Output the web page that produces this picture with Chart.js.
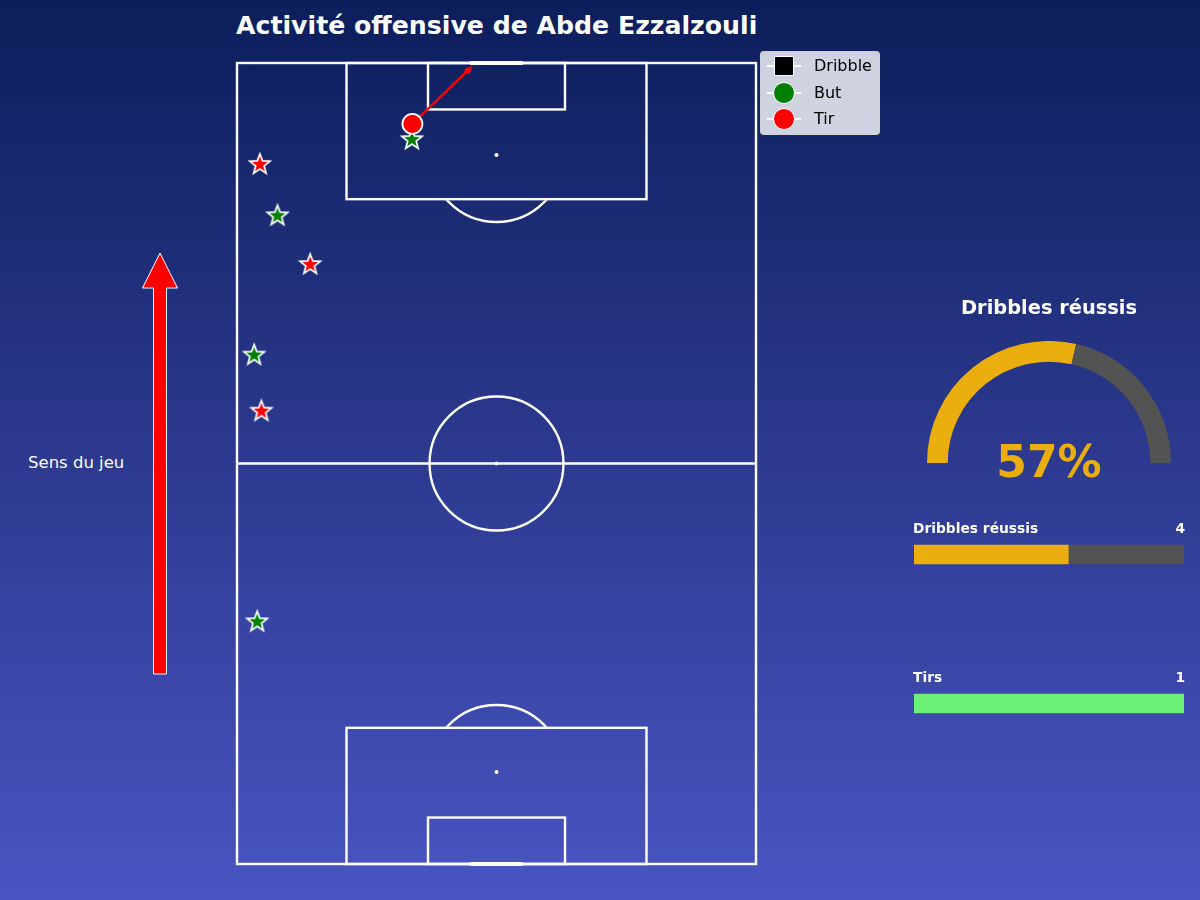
<!DOCTYPE html>
<html>
<head>
<meta charset="utf-8">
<script src="https://cdn.jsdelivr.net/npm/chart.js@4.4.1/dist/chart.umd.min.js"></script>
<style>
  html, body { margin:0; padding:0; }
  body { width:1200px; height:900px; position:relative; overflow:hidden;
         background: linear-gradient(to bottom, #0c1e5b 0%, #2c398e 50%, #4955c2 100%);
         font-family: "DejaVu Sans", sans-serif; color:#fff; }
  .abs { position:absolute; }
  #title { left:236px; top:11px; font-size:25.2px; font-weight:bold; white-space:nowrap; }
  #sens { left:28px; top:453px; font-size:16.5px; white-space:nowrap; }
  #legend { left:760px; top:51px; width:120px; height:84px; background:rgba(255,255,255,0.8);
            border:1px solid rgba(210,210,210,0.9); border-radius:4px; box-sizing:border-box; }
  .lrow { position:absolute; left:0; height:26px; width:120px; }
  .lline { position:absolute; left:6px; top:12px; width:34px; height:2px; background:#fff; }
  .lmark { position:absolute; left:13px; top:3px; width:20px; height:20px; box-sizing:border-box; border:1.5px solid #fff; }
  .ltext { position:absolute; left:53px; top:3px; font-size:16px; color:#000; }
  #gtitle { left:900px; width:298px; text-align:center; top:296px; font-size:19.4px; font-weight:bold; }
  #gval { left:900px; width:298px; text-align:center; top:436px; font-size:44px; font-weight:bold; color:#eaaf0f; }
  .blab { font-size:13.8px; font-weight:bold; white-space:nowrap; }
</style>
</head>
<body>
<div id="title" class="abs">Activité offensive de Abde Ezzalzouli</div>
<div id="sens" class="abs">Sens du jeu</div>
<svg class="abs" style="left:0;top:0" width="200" height="900">
  <polygon points="153.5,674 166.5,674 166.5,288 177.5,288 160,253 142.5,288 153.5,288"
           fill="#ff0000" stroke="#ffffff" stroke-width="1"/>
</svg>

<canvas id="pitch" class="abs" style="left:0;top:0" width="1200" height="900"></canvas>

<div id="legend" class="abs">
  <div class="lrow" style="top:1px"><div class="lline"></div><div class="lmark" style="background:#000"></div><div class="ltext">Dribble</div></div>
  <div class="lrow" style="top:28px"><div class="lline"></div><div class="lmark" style="background:#008000;border-radius:50%;left:12px;width:22px;height:22px;top:2px"></div><div class="ltext">But</div></div>
  <div class="lrow" style="top:54px"><div class="lline"></div><div class="lmark" style="background:#ff0000;border-radius:50%;left:12px;width:22px;height:22px;top:2px"></div><div class="ltext">Tir</div></div>
</div>

<div id="gtitle" class="abs">Dribbles réussis</div>
<canvas id="gauge" class="abs" style="left:927px;top:341px" width="244" height="122"></canvas>
<div id="gval" class="abs"></div>

<div id="bl1" class="abs blab" style="left:913px;top:520px"></div>
<div id="bv1" class="abs blab" style="right:15px;top:520px"></div>
<div id="bl2" class="abs blab" style="left:913px;top:669px"></div>
<div id="bv2" class="abs blab" style="right:15px;top:669px"></div>
<canvas id="bars" class="abs" style="left:914px;top:480px" width="270" height="298"></canvas>

<script>
// ---------------- DATA ----------------
const dribbleX = [4.4, 7.8, 14.1, 3.3, 4.7, 3.9, 33.7];
const dribbleY = [87.4, 81.0, 74.9, 63.6, 56.6, 30.3, 90.5];
const dribbleSuccess = [false, true, false, true, false, true, true];

const shotStartX = [33.8];
const shotStartY = [92.4];
const shotEndX = [45.0];
const shotEndY = [99.4];

const statLabels = ['Dribbles réussis', 'Tirs'];
const dribblesWon = 4;
const dribblesTotal = 7;
const shotsTotal = 1;

// ---------------- COLOURS ----------------
const YELLOW = '#eaaf0f', GREY = '#535353', GREEN_BAR = '#6bef75';

// ---------------- STAR MARKER ----------------
function starPath(ctx, cx, cy, R, ratio) {
  ctx.beginPath();
  for (let i = 0; i < 10; i++) {
    const rad = i % 2 === 0 ? R : R * ratio;
    const a = -Math.PI / 2 + i * Math.PI / 5;
    const px = cx + rad * Math.cos(a), py = cy + rad * Math.sin(a);
    if (i === 0) ctx.moveTo(px, py); else ctx.lineTo(px, py);
  }
  ctx.closePath();
}
function makeStar(fill) {
  const c = document.createElement('canvas');
  c.width = 26; c.height = 26;
  const ctx = c.getContext('2d');
  const cx = 13, cy = 13.6;
  starPath(ctx, cx, cy, 8.2, 0.42);
  ctx.lineJoin = 'miter';
  ctx.lineWidth = 3.4;
  ctx.strokeStyle = '#ffffff';
  ctx.stroke();
  ctx.fillStyle = fill;
  ctx.fill();
  return c;
}
const starGreen = makeStar('#008000');
const starRed = makeStar('#ff0000');

// ---------------- PITCH PLUGIN ----------------
const pitchPlugin = {
  id: 'pitch',
  beforeDatasetsDraw(chart) {
    const { ctx, scales: { x, y } } = chart;
    const X = v => x.getPixelForValue(v), Y = v => y.getPixelForValue(v);
    ctx.save();
    ctx.strokeStyle = '#ffffff';
    ctx.lineWidth = 2.4;
    const rect = (x0, y0, x1, y1) => { ctx.strokeRect(X(x0), Y(y1), X(x1) - X(x0), Y(y0) - Y(y1)); };
    rect(0, 0, 100, 100);
    ctx.beginPath(); ctx.moveTo(X(0), Y(50)); ctx.lineTo(X(100), Y(50)); ctx.stroke();
    rect(21.1, 83, 78.9, 100); rect(21.1, 0, 78.9, 17);
    rect(36.8, 94.2, 63.2, 100); rect(36.8, 0, 63.2, 5.8);
    const rad = (X(100) - X(0)) * 0.129;
    ctx.beginPath(); ctx.arc(X(50), Y(50), rad, 0, Math.PI * 2); ctx.stroke();
    // penalty arcs (outside box)
    ctx.save();
    ctx.beginPath(); ctx.rect(X(0), Y(83) + 1, X(100) - X(0), Y(50) - Y(83)); ctx.clip();
    ctx.beginPath(); ctx.arc(X(50), Y(88.5), rad, 0, Math.PI * 2); ctx.stroke();
    ctx.restore();
    ctx.save();
    ctx.beginPath(); ctx.rect(X(0), Y(50), X(100) - X(0), Y(17) - Y(50) - 1); ctx.clip();
    ctx.beginPath(); ctx.arc(X(50), Y(11.5), rad, 0, Math.PI * 2); ctx.stroke();
    ctx.restore();
    // spots
    ctx.fillStyle = '#ffffff';
    [[50, 50], [50, 88.5], [50, 11.5]].forEach(p => { ctx.beginPath(); ctx.arc(X(p[0]), Y(p[1]), 2, 0, Math.PI * 2); ctx.fill(); });
    // goals
    ctx.lineWidth = 4;
    ctx.beginPath(); ctx.moveTo(X(44.9), Y(100)); ctx.lineTo(X(55.1), Y(100)); ctx.stroke();
    ctx.beginPath(); ctx.moveTo(X(44.9), Y(0)); ctx.lineTo(X(55.1), Y(0)); ctx.stroke();
    ctx.restore();
  },
  afterDatasetsDraw(chart) {
    const idx = chart.data.datasets.findIndex(d => d.label === 'Trajectoire');
    const meta = chart.getDatasetMeta(idx);
    const ctx = chart.ctx;
    const pts = meta.data;
    if (pts.length < 2) return;
    const a = pts[pts.length - 2], b = pts[pts.length - 1];
    const ang = Math.atan2(b.y - a.y, b.x - a.x);
    const L = 9, W = 3.5;
    ctx.save();
    ctx.fillStyle = '#ff0000';
    ctx.beginPath();
    ctx.moveTo(b.x + Math.cos(ang) * 3, b.y + Math.sin(ang) * 3);
    ctx.lineTo(b.x - L * 0.5 * Math.cos(ang) + W * Math.sin(ang), b.y - L * 0.5 * Math.sin(ang) - W * Math.cos(ang));
    ctx.lineTo(b.x - L * Math.cos(ang), b.y - L * Math.sin(ang));
    ctx.lineTo(b.x - L * 0.5 * Math.cos(ang) - W * Math.sin(ang), b.y - L * 0.5 * Math.sin(ang) + W * Math.cos(ang));
    ctx.closePath(); ctx.fill();
    ctx.restore();
  }
};

new Chart(document.getElementById('pitch'), {
  type: 'scatter',
  data: {
    datasets: [
      {
        label: 'Tir',
        data: shotStartX.map((v, i) => ({ x: v, y: shotStartY[i] })),
        pointStyle: 'circle', pointRadius: 10, backgroundColor: '#ff0000',
        borderColor: '#ffffff', borderWidth: 1.8, clip: false
      },
      {
        type: 'line',
        label: 'Trajectoire',
        data: shotStartX.map((v, i) => [{ x: v, y: shotStartY[i] }, { x: shotEndX[i], y: shotEndY[i] }]).flat(),
        borderColor: '#ff0000', borderWidth: 2.5, pointRadius: 0, fill: false, clip: false
      },
      {
        label: 'Dribble',
        data: dribbleX.map((v, i) => ({ x: v, y: dribbleY[i] })),
        pointStyle: dribbleSuccess.map(s => s ? starGreen : starRed),
        clip: false
      }
    ]
  },
  options: {
    responsive: false, animation: false, devicePixelRatio: 1,
    layout: { padding: { left: 237, right: 444, top: 63, bottom: 36 } },
    scales: {
      x: { type: 'linear', min: 0, max: 100, display: false },
      y: { type: 'linear', min: 0, max: 100, display: false }
    },
    plugins: { legend: { display: false }, tooltip: { enabled: false } }
  },
  plugins: [pitchPlugin]
});

// ---------------- GAUGE ----------------
const pct = Math.round(dribblesWon / dribblesTotal * 100);
document.getElementById('gval').textContent = pct + '%';
new Chart(document.getElementById('gauge'), {
  type: 'doughnut',
  data: {
    labels: ['Réussis', 'Ratés'],
    datasets: [{ data: [dribblesWon, dribblesTotal - dribblesWon], backgroundColor: [YELLOW, GREY], borderWidth: 0 }]
  },
  options: {
    responsive: false, animation: false, devicePixelRatio: 1,
    rotation: -90, circumference: 180, cutout: '83%',
    layout: { padding: 0 },
    plugins: { legend: { display: false }, tooltip: { enabled: false } }
  }
});

// ---------------- BARS ----------------
document.getElementById('bl1').textContent = statLabels[0];
document.getElementById('bv1').textContent = dribblesWon;
document.getElementById('bl2').textContent = statLabels[1];
document.getElementById('bv2').textContent = shotsTotal;
const filled = [dribblesWon / dribblesTotal * 100, 100];
const rest = filled.map(v => 100 - v);
new Chart(document.getElementById('bars'), {
  type: 'bar',
  data: {
    labels: statLabels,
    datasets: [
      { data: filled, backgroundColor: [YELLOW, GREEN_BAR], barThickness: 19, borderWidth: 0 },
      { data: rest, backgroundColor: [GREY, GREY], barThickness: 19, borderWidth: 0 }
    ]
  },
  options: {
    indexAxis: 'y', responsive: false, animation: false, devicePixelRatio: 1,
    layout: { padding: 0 },
    scales: {
      x: { stacked: true, min: 0, max: 100, display: false },
      y: { stacked: true, display: false }
    },
    plugins: { legend: { display: false }, tooltip: { enabled: false } }
  }
});
</script>
</body>
</html>
